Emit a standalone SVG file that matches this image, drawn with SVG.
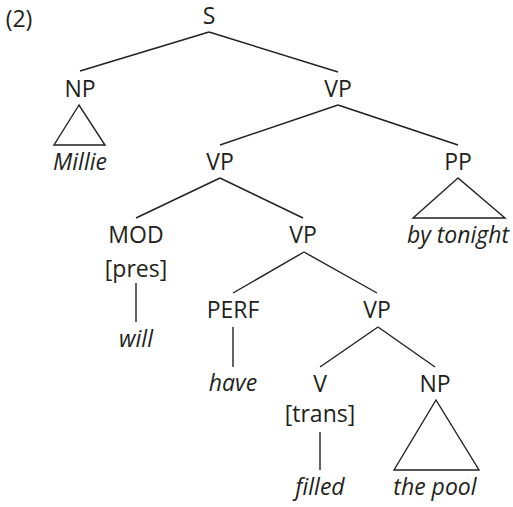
<svg xmlns="http://www.w3.org/2000/svg" width="513" height="507" viewBox="0 0 513 507">
<style>
text{font-family:"Open Sans","Noto Sans",sans-serif;font-size:23px;fill:#231f20;text-anchor:middle}
.i{font-style:italic}
line,polygon{stroke:#231f20;stroke-width:1.4;fill:none}
</style>
<rect width="513" height="507" fill="#fff"/>
<text x="19" y="27">(2)</text>
<g id="connectors">
<line x1="209" y1="32" x2="80" y2="71"/>
<line x1="209" y1="32" x2="338" y2="72"/>
<line x1="338" y1="105" x2="220" y2="145"/>
<line x1="338" y1="105" x2="458" y2="145"/>
<line x1="220" y1="178" x2="136" y2="218"/>
<line x1="220" y1="178" x2="303" y2="218"/>
<line x1="136" y1="283" x2="136" y2="322"/>
<line x1="304" y1="252" x2="233" y2="293"/>
<line x1="304" y1="252" x2="377" y2="293"/>
<line x1="233" y1="327" x2="233" y2="367"/>
<line x1="378" y1="327" x2="320" y2="367"/>
<line x1="378" y1="327" x2="435" y2="367"/>
<line x1="320" y1="432" x2="320" y2="470"/>
<polygon points="79,105 54,145 105,145"/>
<polygon points="458,178 413,218 505,218"/>
<polygon points="436,400 394,470 479,470"/>
</g>
<g id="S"><text x="209" y="24">S</text></g>
<g id="NP1"><text x="80" y="97">NP</text><text class="i" x="80" y="170">Millie</text></g>
<g id="VP1"><text x="338" y="97">VP</text></g>
<g id="VP2"><text x="220" y="170">VP</text></g>
<g id="PP"><text x="458" y="170">PP</text><text class="i" x="458" y="243">by tonight</text></g>
<g id="MOD"><text x="136" y="243">MOD</text><text x="136" y="277">[pres]</text><text class="i" x="136" y="347">will</text></g>
<g id="VP3"><text x="303" y="243">VP</text></g>
<g id="PERF"><text x="233" y="318">PERF</text><text class="i" x="233" y="391">have</text></g>
<g id="VP4"><text x="377" y="318">VP</text></g>
<g id="V"><text x="320" y="392">V</text><text x="320" y="422">[trans]</text><text class="i" x="320" y="495">filled</text></g>
<g id="NP2"><text x="435" y="392">NP</text><text class="i" x="435" y="495">the pool</text></g>
</svg>
